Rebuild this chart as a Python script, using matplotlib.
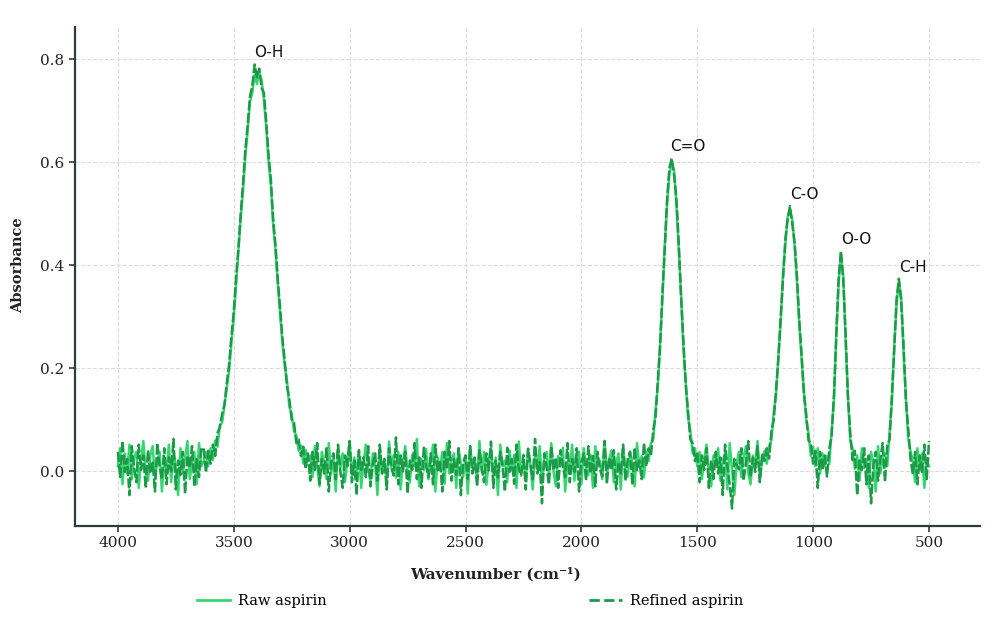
import numpy as np
import matplotlib
matplotlib.use("Agg")
import matplotlib.pyplot as plt
from matplotlib.lines import Line2D

# wavenumber grid, 4000 -> 500 cm-1 every 10
wavenumber = np.arange(4000, 499, -10)

# absorbance, in milli-absorbance units
raw_aspirin = [
    # 4000-3640
    10, 45, -25, 35, -4, 52, -15, 27, 38, -32, 21, 59, -1, -18, 31, 49, -11, 17, 38, -39,
    24, 3, 52, -21, 35, 10, -46, 45, -4, 27, 59, -15, 17, 38, -25, 55, 10,
    # O-H band 3630-3180
    20, 38, 10, 45, 22, 60, 48, 90, 95, 128, 160, 195, 250, 298, 362, 425, 492, 545, 612, 660,
    718, 735, 770, 752, 775, 760, 722, 668, 602, 555, 478, 430, 365, 305, 250, 205, 175, 125, 112, 78,
    70, 40, 50, 15, 42, 20,
    # 3170-1720
    31, -11, 49, 10, -29, 38, 17, -15, 55, -4,
    24, -39, 45, 7, 35, -21, 21, 59, -11, 27,
    -1, 41, -32, 17, 52, 3, -18, 35, 13, -46,
    46, -4, 24, -25, 58, 7, 31, -12, 38, -35,
    21, 49, -1, -21, 32, 10, 63, -29, 24, 3,
    44, -15, 17, 52, -39, 27, 4, 38, -24, 55,
    -4, 21, 35, -32, 45, 13, -10, 30, -43, 49,
    7, 24, -18, 59, -1, 38, -26, 16, 46, -12,
    27, -46, 52, 10, 21, -21, 41, 2, 32, -32,
    58, -4, 18, -15, 44, 13, -35, 35, 4, 49,
    -24, 24, 38, -11, 55, -1, -29, 30, 10, 46,
    -39, 18, 2, 52, -18, 27, 38, -25, 45, 7,
    -7, 32, -32, 49, 13, 21, -15, 59, -4, 24,
    41, -21, 16, 35, -35, 46, 4, -10, 38, 17,
    -29, 55, 10, 30, -12, 38,
    # C=O 1710-1500
    20, 55, 62, 120, 165, 250, 338, 440, 520, 578, 598, 585, 518, 432, 345, 240, 175, 105, 80, 35,
    45, 10,
    # 1490-1220
    38, -15, 24, 52, -4, -29, 31, 13, 45, -18, 21, 35, -35, 55, 3, -46, 17, 38, -11, 27,
    49, -4, -25, 31, 10, 59, -15, 21,
    # C-O 1210-990
    40, 15, 50, 60, 115, 148, 225, 290, 385, 440, 495, 505, 490, 438, 370, 285, 220, 160, 100, 75,
    30, 48, 10,
    # 980-950
    45, -4, 35, 10,
    # O-O 940-820
    30, 15, 80, 140, 270, 365, 420, 380, 255, 150, 60, 45, 5,
    # 810-700
    31, -18, 45, 7, 24, -32, 38, 17, -39, 49, -4, 27,
    # C-H 690-570
    35, 10, 78, 135, 245, 325, 368, 338, 232, 145, 65, 40, 20,
    # 560-500
    -21, 45, 3, 35, -32, 24, 10,
]

refined_aspirin = [
    # 4000-3640
    38, -11, 59, -1, 24, -46, 49, 7, -21, 52, 3, 31, -32, 41, -4, 17, -39, 55, 10, -15,
    45, -25, 27, 0, 63, -35, 21, -7, 38, -43, 31, 7, 49, -29, 24, -11, 45,
    # O-H band 3630-3180
    45, -2, 40, 15, 52, 30, 75, 85, 112, 130, 172, 208, 262, 310, 375, 432, 500, 558, 625, 672,
    728, 748, 790, 765, 782, 745, 735, 680, 615, 568, 490, 440, 372, 318, 258, 215, 165, 140, 100, 95,
    55, 62, 30, 48, 5, 35,
    # 3170-1720
    -18, 38, 3, 55, -25, 24, -4, 45, -39, 17,
    35, -15, 52, -1, -32, 31, 10, 59, -21, 21,
    -46, 41, 3, 27, -11, 49, -29, 13, 35, -18,
    52, -4, 24, -35, 45, 7, -8, 66, -25, 31,
    0, 38, -43, 21, 3, 55, -15, 27, -32, 46,
    10, -11, 35, -25, 52, -1, 21, -39, 38, 4,
    59, -18, 24, -7, 45, -46, 17, 31, -15, 49,
    -4, 27, -29, 41, 7, -21, 35, 2, 58, -32,
    21, -12, 38, 10, -39, 46, -1, 24, -24, 52,
    4, -8, 32, -35, 44, 13, -15, 63, -4, 18,
    -62, 35, 7, -25, 49, 2, 27, -32, 41, 10,
    -11, 55, -21, 24, -1, 45, -39, 17, 35, -18,
    49, -4, 30, -29, 38, 4, -10, 59, -24, 27,
    3, 41, -35, 18, -4, 52, -18, 24, 38, -26,
    46, 2, 21, -15, 55, 10,
    # C=O 1710-1500
    45, 30, 80, 105, 178, 245, 350, 435, 530, 590, 608, 575, 530, 445, 340, 255, 170, 118, 62, 55,
    20, 38,
    # 1490-1220
    -21, 31, 3, 45, -32, 21, -15, 38, -4, 27, -46, 52, 10, -25, -72, 24, 13, 4, 45, -18,
    17, 59, -11, 27, -1, 49, -21, 35,
    # C-O 1210-990
    20, 45, 25, 78, 100, 160, 218, 300, 372, 450, 490, 515, 480, 445, 380, 295, 228, 150, 112, 60,
    55, 15, 40,
    # 980-950
    -32, 38, 3, 31,
    # O-O 940-820
    -10, 45, 70, 150, 262, 375, 428, 372, 268, 145, 75, 22, 40,
    # 810-700
    -46, 21, 3, 45, -25, 31, -62, 13, 38, -18, 24, 55,
    # C-H 690-570
    -20, 50, 62, 148, 238, 335, 374, 330, 245, 140, 85, 25, -5,
    # 560-500
    38, -25, 31, -4, 52, -15, 59,
]

assert len(raw_aspirin) == len(wavenumber)
assert len(refined_aspirin) == len(wavenumber)

# peak labels
peak_names = ["O-H", "C=O", "C-O", "O-O", "C-H"]
peak_pos = [3410, 1615, 1100, 880, 630]
peak_top = [0.790, 0.608, 0.515, 0.428, 0.374]

raw_col = "#38d673"
ref_col = "#1d9a47"
dark = "#2e3b3e"
serif = "DejaVu Serif"

fig = plt.figure(figsize=(10, 6.2), dpi=100)
ax = fig.add_axes([0.075, 0.1516, 0.905, 0.805])

ax.plot(wavenumber, np.array(raw_aspirin) / 1000, color=raw_col, lw=1.8,
        label="Raw aspirin", zorder=2)
ax.plot(wavenumber, np.array(refined_aspirin) / 1000, color=ref_col, lw=1.8,
        dashes=(4, 1), label="Refined aspirin", zorder=3)

for name, x, y in zip(peak_names, peak_pos, peak_top):
    ax.text(x, y + 0.008, name, ha="left", va="bottom", fontsize=11,
            family="DejaVu Sans", color="#111111")

ax.set_xlim(4185, 280)
ax.set_ylim(-0.106, 0.863)
ax.set_xticks(np.arange(4000, 499, -500))
ax.set_yticks([0.0, 0.2, 0.4, 0.6, 0.8])
ax.set_yticklabels(["0.0", "0.2", "0.4", "0.6", "0.8"])

ax.grid(True, ls="--", lw=0.8, color="#dcdcdc")
ax.set_axisbelow(True)

for s in ["top", "right"]:
    ax.spines[s].set_visible(False)
for s in ["left", "bottom"]:
    ax.spines[s].set_color(dark)
    ax.spines[s].set_linewidth(1.6)

ax.tick_params(direction="out", length=4, width=1.2, color=dark,
               labelsize=11, labelcolor="#222222")
for lab in ax.get_xticklabels() + ax.get_yticklabels():
    lab.set_family(serif)

ax.set_xlabel("Wavenumber (cm⁻¹)", family=serif, fontweight="bold",
              fontsize=11, color="#222222")
ax.xaxis.set_label_coords(0.465, -0.082)
ax.set_ylabel("Absorbance", family=serif, fontweight="bold",
              fontsize=10.5, color="#222222")
ax.yaxis.set_label_coords(-0.055, 0.523)

handles = [Line2D([], [], color=raw_col, lw=2),
           Line2D([], [], color=ref_col, lw=2, ls="--")]
fig.legend(handles, ["Raw aspirin", "Refined aspirin"], loc="center",
           bbox_to_anchor=(0.47, 0.031), ncol=2, frameon=False,
           columnspacing=18, handlelength=2.3, handletextpad=0.5,
           prop={"family": serif, "size": 10.5})

fig.savefig("out.png", dpi=100, facecolor="white")
